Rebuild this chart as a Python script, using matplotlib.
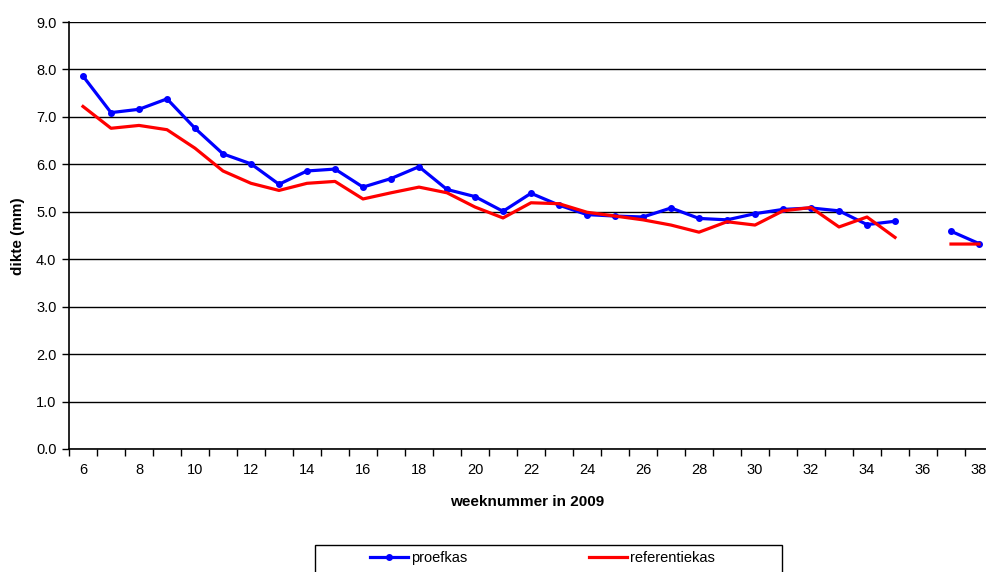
import numpy as np
import matplotlib
matplotlib.use("Agg")
import matplotlib.pyplot as plt
from matplotlib.patches import Rectangle

plt.rcParams['font.family'] = ['Liberation Sans', 'DejaVu Sans']

#data
weeks = list(range(6, 39))
proefkas = [7.86, 7.09, 7.16, 7.38, 6.76, 6.22, 6.01, 5.58, 5.86, 5.90,
            5.52, 5.70, 5.95, 5.47, 5.32, 5.01, 5.39, 5.14, 4.94, 4.91,
            4.89, 5.08, 4.86, 4.83, 4.96, 5.05, 5.08, 5.02, 4.73, 4.80,
            np.nan, 4.59, 4.33]
referentiekas = [7.22, 6.76, 6.82, 6.73, 6.34, 5.86, 5.60, 5.45, 5.60, 5.64,
                 5.27, 5.40, 5.52, 5.40, 5.10, 4.87, 5.19, 5.17, 4.99, 4.91,
                 4.83, 4.72, 4.57, 4.79, 4.72, 5.02, 5.09, 4.68, 4.89, 4.46,
                 np.nan, 4.32, 4.32]
yticks = np.arange(0, 10, 1.0)

W, H = 986, 572
fig = plt.figure(figsize=(W / 100, H / 100), dpi=100)
# plot area runs slightly past the right edge, as in the reference
ax = fig.add_axes([69 / W, 1 - 449 / H, (993 - 69) / W, (449 - 22) / H])

l1, = ax.plot(weeks, proefkas, color='#0000ff', lw=2.3, marker='o', ms=4, label='proefkas')
l2, = ax.plot(weeks, referentiekas, color='#ff0000', lw=2.3, label='referentiekas')

ax.set_xlim(5.5, 38.5)
ax.set_ylim(0, 9)
ax.set_yticks(yticks)
ax.set_yticklabels(["%.1f" % v for v in yticks], fontsize=10.5)
ax.set_xticks(weeks[::2])
ax.set_xticklabels([str(w) for w in weeks[::2]], fontsize=10.5)
ax.set_xticks(np.arange(5.5, 39, 1.0), minor=True)
ax.tick_params(axis='x', which='major', length=0, pad=10)
ax.tick_params(axis='x', which='minor', length=5, width=1, color='black')
ax.tick_params(axis='y', length=5, width=1, color='black', pad=4)
ax.grid(axis='y', color='black', lw=1)
ax.set_axisbelow(True)
for s in ['top', 'right']:
    ax.spines[s].set_visible(False)
for s in ['left', 'bottom']:
    ax.spines[s].set_color('black')
    ax.spines[s].set_linewidth(1.2)

fig.text(18 / W, 1 - 236 / H, "dikte (mm)", rotation=90, ha='center', va='center',
         fontsize=11, fontweight='bold')
fig.text(527 / W, 1 - 502 / H, "weeknummer in 2009", ha='center', va='center',
         fontsize=11, fontweight='bold')

# legend frame starts at y=545 px and runs off the bottom of the image
fig.patches.append(Rectangle((315 / W, -0.05), 467 / W, 0.05 + 1 - 545 / H,
                             transform=fig.transFigure, fill=False,
                             edgecolor='black', lw=1))
for handle, x0 in [(l1, 370), (l2, 589)]:
    fig.legend(handles=[handle], loc='center left', bbox_to_anchor=(x0 / W, 1 - 558 / H),
               fontsize=10.5, frameon=False, borderpad=0, borderaxespad=0,
               handlelength=2.6, handletextpad=0.2)

fig.savefig("out.png", dpi=100)
plt.close()
